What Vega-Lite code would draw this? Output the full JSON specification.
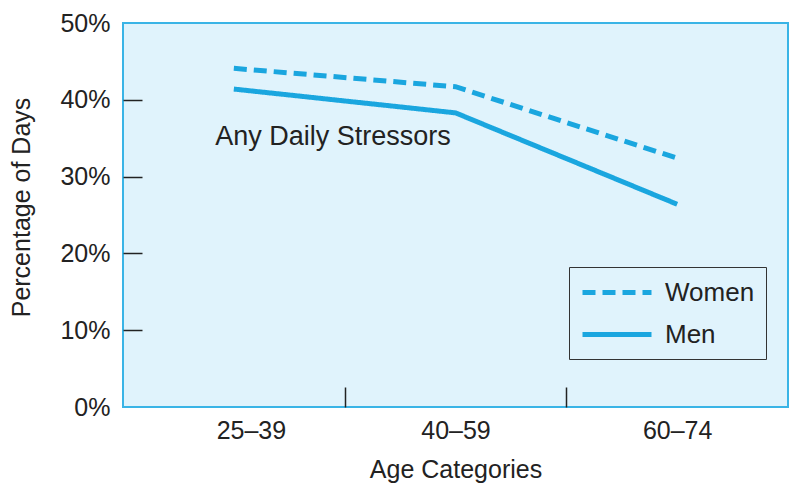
{
  "$schema": "https://vega.github.io/schema/vega-lite/v6.json",
  "width": 665,
  "height": 384,
  "autosize": "none",
  "padding": {"left": 123, "top": 23, "right": 12, "bottom": 81},
  "background": "white",
  "config": {
    "font": "Liberation Sans",
    "view": {"stroke": "#3ab4e6", "strokeWidth": 2, "fill": "#e0f3fc"},
    "axis": {"labelFont": "Liberation Sans", "titleFont": "Liberation Sans", "labelColor": "#222", "titleColor": "#222", "titleFontWeight": "normal", "grid": false, "domain": false}
  },
  "layer": [
    {
      "data": {"values": [
        {"age": 1, "pct": 0.441, "sex": "Women"},
        {"age": 2, "pct": 0.417, "sex": "Women"},
        {"age": 3, "pct": 0.324, "sex": "Women"},
        {"age": 1, "pct": 0.414, "sex": "Men"},
        {"age": 2, "pct": 0.383, "sex": "Men"},
        {"age": 3, "pct": 0.264, "sex": "Men"}
      ]},
      "mark": {"type": "line", "color": "#1aa6df", "strokeWidth": 5},
      "encoding": {
        "x": {"field": "age", "type": "quantitative", "scale": {"domain": [0.5, 3.5], "nice": false, "zero": false},
          "axis": {"values": [1.077, 2, 3], "labelExpr": "datum.value < 1.5 ? '25–39' : datum.value < 2.5 ? '40–59' : '60–74'", "ticks": false, "labelFontSize": 25, "labelPadding": 11, "title": "Age Categories", "titleFontSize": 25, "titlePadding": 14}},
        "y": {"field": "pct", "type": "quantitative", "scale": {"domain": [0, 0.5], "nice": false},
          "axis": {"values": [0, 0.1, 0.2, 0.3, 0.4, 0.5], "format": ".0%", "tickSize": -19, "tickColor": "#222", "tickWidth": 1.5,
            "tickOpacity": {"condition": {"test": "datum.value == 0 || datum.value == 0.5", "value": 0}, "value": 1},
            "labelFontSize": 25, "labelPadding": 32, "title": "Percentage of Days", "titleFontSize": 25, "titlePadding": 25, "titleY": 184}},
        "strokeDash": {"field": "sex", "type": "nominal",
          "scale": {"domain": ["Women", "Men"], "range": [[13, 7], [1, 0]]},
          "legend": {"title": null, "orient": "none", "legendX": 446, "legendY": 244, "symbolType": "M-1,0H4.75", "symbolSize": 576, "symbolStrokeWidth": 5, "symbolStrokeColor": "#1aa6df", "labelFontSize": 26, "labelColor": "#222", "labelFont": "Liberation Sans", "strokeColor": "#333", "fillColor": "#e0f3fc", "padding": 11, "labelOffset": 56, "rowPadding": 14}}
      }
    },
    {
      "data": {"values": [{"x": 1.447, "y": 0.341, "label": "Any Daily Stressors"}]},
      "mark": {"type": "text", "fontSize": 27, "color": "#222", "font": "Liberation Sans", "baseline": "alphabetic"},
      "encoding": {
        "x": {"field": "x", "type": "quantitative",
          "axis": {"values": [1.5, 2.5], "labels": false, "tickSize": -20, "tickColor": "#222", "tickWidth": 1.5, "title": null, "orient": "bottom"}},
        "y": {"field": "y", "type": "quantitative"},
        "text": {"field": "label"}
      }
    }
  ],
  "resolve": {"axis": {"x": "independent"}}
}
